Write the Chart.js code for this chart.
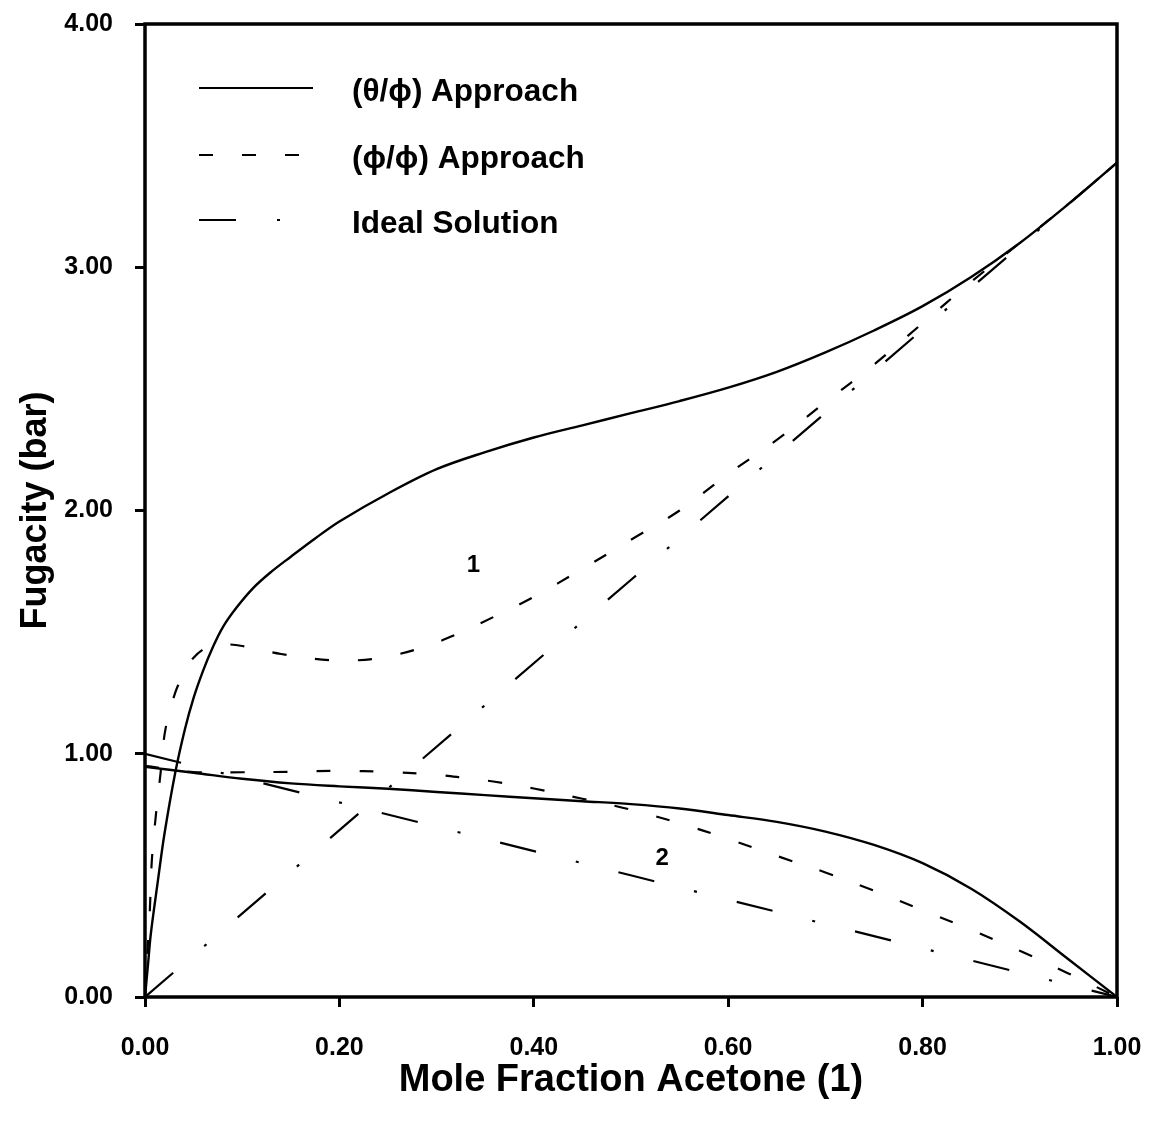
<!DOCTYPE html>
<html>
<head>
<meta charset="utf-8">
<script src="https://cdn.jsdelivr.net/npm/chart.js@4"></script>
<style>
  body { margin: 0; background: #fff; }
  #wrap { width: 1156px; height: 1130px; }
</style>
</head>
<body>
<div id="wrap"><canvas id="chart"></canvas></div>
<script>
// tick values
const xTicks = [0, 0.2, 0.4, 0.6, 0.8, 1.0];
const yTicks = [0, 1, 2, 3, 4];

// (theta/phi) approach, component 1 (acetone)
const thetaPhiX1 = [0, 0.003, 0.006, 0.013, 0.02, 0.031, 0.041, 0.05, 0.06, 0.07, 0.08, 0.094, 0.111, 0.129, 0.15, 0.175, 0.2, 0.25, 0.3, 0.35, 0.4, 0.45, 0.5, 0.55, 0.6, 0.65, 0.7, 0.75, 0.8, 0.85, 0.9, 0.95, 1.0];
const thetaPhiY1 = [0, 0.13, 0.26, 0.47, 0.67, 0.92, 1.10, 1.23, 1.344, 1.44, 1.52, 1.60, 1.68, 1.745, 1.81, 1.885, 1.955, 2.07, 2.17, 2.24, 2.30, 2.35, 2.40, 2.45, 2.505, 2.57, 2.65, 2.74, 2.84, 2.96, 3.10, 3.26, 3.43];

// (phi/phi) approach, component 1
const phiPhiX1 = [0, 0.002, 0.005, 0.007, 0.011, 0.016, 0.021, 0.031, 0.04, 0.05, 0.065, 0.08, 0.1, 0.14, 0.19, 0.235, 0.28, 0.32, 0.36, 0.4, 0.45, 0.5, 0.55, 0.6, 0.65, 0.7, 0.75, 0.8, 0.85, 0.9, 0.95, 1.0];
const phiPhiY1 = [0, 0.15, 0.36, 0.56, 0.74, 0.92, 1.10, 1.25, 1.33, 1.395, 1.44, 1.45, 1.443, 1.41, 1.385, 1.39, 1.43, 1.49, 1.565, 1.645, 1.76, 1.88, 2.0, 2.15, 2.29, 2.445, 2.6, 2.77, 2.94, 3.10, 3.26, 3.43];

// (theta/phi) approach, component 2
const thetaPhiX2 = [0, 0.05, 0.1, 0.15, 0.2, 0.25, 0.3, 0.35, 0.4, 0.45, 0.5, 0.55, 0.6, 0.65, 0.7, 0.75, 0.8, 0.85, 0.9, 0.95, 1.0];
const thetaPhiY2 = [0.946, 0.922, 0.897, 0.878, 0.866, 0.856, 0.843, 0.83, 0.817, 0.805, 0.793, 0.775, 0.748, 0.72, 0.68, 0.625, 0.55, 0.445, 0.31, 0.155, 0];

// (phi/phi) approach, component 2
const phiPhiX2 = [0, 0.05, 0.1, 0.15, 0.2, 0.25, 0.3, 0.33, 0.36, 0.4, 0.45, 0.5, 0.55, 0.6, 0.65, 0.7, 0.75, 0.8, 0.85, 0.9, 0.95, 1.0];
const phiPhiY2 = [0.95, 0.925, 0.924, 0.926, 0.93, 0.925, 0.914, 0.90, 0.885, 0.857, 0.815, 0.77, 0.714, 0.65, 0.58, 0.512, 0.437, 0.357, 0.276, 0.19, 0.097, 0];

// ideal solution lines
const idealX1 = [0, 1.0];
const idealY1 = [0, 3.43];
const idealX2 = [0, 1.0];
const idealY2 = [1.0, 0];

const legendLabels = ['(\u03B8/\u03D5) Approach', '(\u03D5/\u03D5) Approach', 'Ideal Solution'];
const curveLabels = [{text: '1', x: 0.338, y: 1.78}, {text: '2', x: 0.532, y: 0.575}];

const FONT = "'Liberation Sans', Arial, sans-serif";
const solidDash = [];
const dashDash = [14, 29];
const idealDash = [37, 41, 3, 41];

function pts(xs, ys) {
  return xs.map((x, i) => ({x: x, y: ys[i]}));
}

function line(xs, ys, dash, width) {
  return {
    data: pts(xs, ys),
    borderColor: '#000',
    borderWidth: width,
    borderDash: dash,
    pointRadius: 0,
    fill: false,
    tension: 0.35
  };
}

// keep the plot box where the figure has it, not where label overflow pushes it
function noPad(s) {
  s.paddingTop = 0; s.paddingBottom = 0; s.paddingLeft = 0; s.paddingRight = 0;
}

const frame = {
  id: 'frame',
  afterDraw(chart) {
    const {ctx, chartArea: a} = chart;
    ctx.save();
    ctx.strokeStyle = '#000';
    ctx.lineWidth = 3.5;
    ctx.strokeRect(a.left, a.top, a.right - a.left, a.bottom - a.top);
    ctx.restore();
  }
};

const legendInside = {
  id: 'legendInside',
  afterDraw(chart) {
    const ctx = chart.ctx;
    const styles = [solidDash, dashDash, idealDash];
    const rows = [88, 155, 220];
    ctx.save();
    ctx.strokeStyle = '#000';
    ctx.fillStyle = '#000';
    ctx.lineWidth = 2.2;
    legendLabels.forEach((lab, i) => {
      ctx.setLineDash(styles[i]);
      ctx.beginPath();
      ctx.moveTo(199, rows[i]);
      ctx.lineTo(i == 0 ? 313 : 303, rows[i]);
      ctx.stroke();
      ctx.setLineDash([]);
      ctx.font = 'bold 31.5px ' + FONT;
      ctx.textBaseline = 'middle';
      ctx.textAlign = 'left';
      ctx.fillText(lab, 352, rows[i] + 4);
    });
    // curve numbers
    const xs = chart.scales.x, ys = chart.scales.y;
    ctx.font = 'bold 24px ' + FONT;
    ctx.textAlign = 'center';
    curveLabels.forEach(c => {
      ctx.fillText(c.text, xs.getPixelForValue(c.x), ys.getPixelForValue(c.y) + 1);
    });
    ctx.restore();
  }
};

new Chart(document.getElementById('chart'), {
  type: 'line',
  data: {
    datasets: [
      line(thetaPhiX1, thetaPhiY1, solidDash, 2.4),
      line(thetaPhiX2, thetaPhiY2, solidDash, 2.4),
      line(phiPhiX1, phiPhiY1, dashDash, 2.2),
      line(phiPhiX2, phiPhiY2, dashDash, 2.2),
      line(idealX1, idealY1, idealDash, 2.2),
      line(idealX2, idealY2, idealDash, 2.2)
    ]
  },
  options: {
    responsive: true,
    maintainAspectRatio: false,
    animation: false,
    layout: { padding: { top: 24, right: 39, left: 0, bottom: 0 } },
    plugins: { legend: { display: false }, tooltip: { enabled: false } },
    scales: {
      x: {
        type: 'linear',
        min: 0, max: 1,
        afterFit: s => { s.height = 133; noPad(s); },
        afterBuildTicks: s => { s.ticks = xTicks.map(v => ({value: v})); },
        grid: { display: true, drawOnChartArea: false, drawTicks: true, tickLength: 10, tickWidth: 3, tickColor: '#000' },
        border: { display: false },
        ticks: {
          color: '#000', padding: 26,
          font: { family: FONT, size: 25, weight: 'bold' },
          callback: v => Number(v).toFixed(2)
        },
        title: {
          display: true, text: 'Mole Fraction Acetone (1)', color: '#000',
          font: { family: FONT, size: 38, weight: 'bold' },
          padding: { top: 0, bottom: 27 }
        }
      },
      y: {
        type: 'linear',
        min: 0, max: 4,
        afterFit: s => { s.width = 145; noPad(s); },
        afterBuildTicks: s => { s.ticks = yTicks.map(v => ({value: v})); },
        grid: { display: true, drawOnChartArea: false, drawTicks: true, tickLength: 10, tickWidth: 3, tickColor: '#000' },
        border: { display: false },
        ticks: {
          color: '#000', padding: 22,
          font: { family: FONT, size: 25, weight: 'bold' },
          callback: v => Number(v).toFixed(2)
        },
        title: {
          display: true, text: 'Fugacity (bar)', color: '#000',
          font: { family: FONT, size: 36, weight: 'bold' },
          padding: { top: 14, bottom: 0 }
        }
      }
    }
  },
  plugins: [frame, legendInside]
});
</script>
</body>
</html>
